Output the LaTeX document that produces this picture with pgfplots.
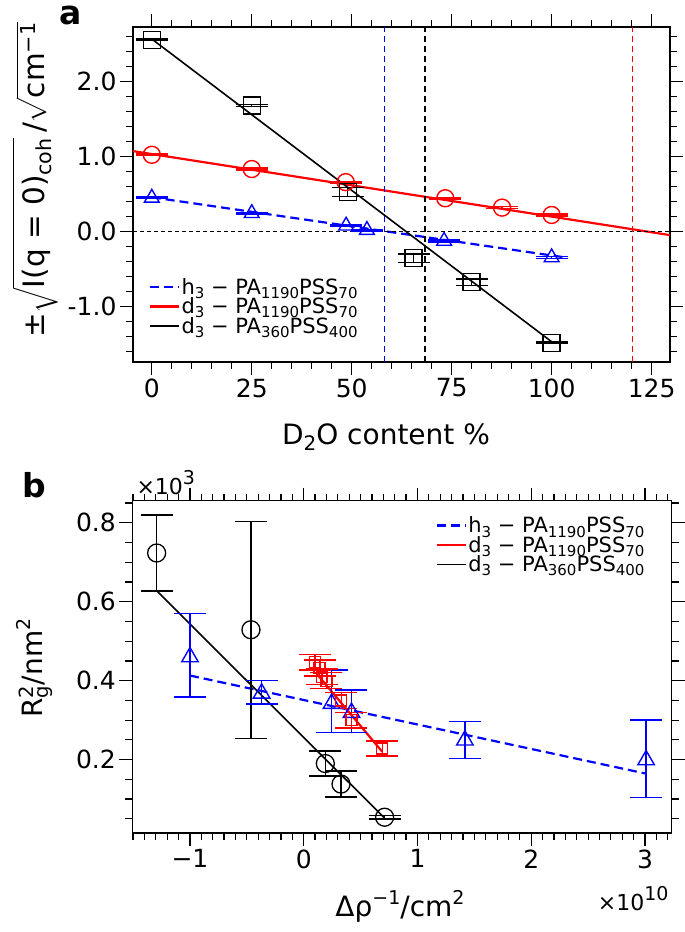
\documentclass[border=0pt]{standalone}
\usepackage{fontspec}
\setmainfont{DejaVu Sans}
\usepackage{amsmath}
\usepackage{pgfplots}
\pgfplotsset{compat=1.18}
\newcommand{\tickfont}{\fontsize{25}{28}\selectfont}
\newcommand{\labfont}{\fontsize{28}{32}\selectfont}
\newcommand{\legfont}{\fontsize{21}{24}\selectfont}
\newcommand{\sub}[1]{\raisebox{-0.2em}{\fontsize{15}{16}\selectfont #1}}
\newcommand{\lsub}[1]{\raisebox{-0.22em}{\fontsize{20}{20}\selectfont #1}}
\newcommand{\lsup}[1]{\raisebox{0.42em}{\fontsize{19}{20}\selectfont #1}}
\pgfplotsset{
  panel/.style={
    scale only axis, anchor=south west,
    axis line style={line width=1.4pt},
    tick style={black, line width=1.2pt},
    tick align=outside,
    major tick length=13pt, minor tick length=7pt,
    ticklabel style={font=\tickfont},
    /pgf/number format/assume math mode=true,
    legend cell align=left,
    legend image code/.code={\draw[#1] (0pt,0pt) -- (29pt,0pt);},
  },
  errstyle/.style={error bars/.cd, y dir=both, y explicit,
    error bar style={line width=1.4pt, solid},
    error mark options={rotate=90, mark size=16pt, line width=1.4pt, solid}},
}
\begin{document}
\begin{tikzpicture}
% ---------------- panel a ----------------
\begin{axis}[panel, at={(133pt,-362pt)}, width=537pt, height=335pt,
  xmin=-4.7, xmax=129.6, ymin=-1.74, ymax=2.73,
  xtick={0,25,50,75,100,125},
  minor xtick={-5,5,10,15,20,30,35,40,45,55,60,65,70,80,85,90,95,105,110,115,120,130},
  ytick={-1,0,1,2},
  minor ytick={-1.6,-1.4,-1.2,-0.8,-0.6,-0.4,-0.2,0.2,0.4,0.6,0.8,1.2,1.4,1.6,1.8,2.2,2.4,2.6},
  yticklabel style={/pgf/number format/.cd, fixed, fixed zerofill, precision=1},
  legend style={at={(0.03,0.078)}, anchor=south west, draw=none, fill=none,
    font=\legfont, inner sep=0pt, row sep=0pt, nodes={inner sep=1pt}},
]
\addplot[blue, line width=2.2pt, dash pattern=on 9pt off 5pt] coordinates {(0,0.458) (103.7,-0.347)};
\addlegendentry{h\sub{3} − PA\sub{1190}PSS\sub{70}}
\addplot[red, line width=2.2pt] coordinates {(-4.7,1.074) (129.6,-0.047)};
\addlegendentry{d\sub{3} − PA\sub{1190}PSS\sub{70}}
\addplot[black, line width=1.6pt] coordinates {(0,2.57) (100,-1.47)};
\addlegendentry{d\sub{3} − PA\sub{360}PSS\sub{400}}
% reference lines
\addplot[black, line width=0.9pt, dash pattern=on 4pt off 3pt, forget plot] coordinates {(-4.7,0) (129.6,0)};
\addplot[blue, line width=1.7pt, dash pattern=on 6pt off 4pt, forget plot] coordinates {(58.2,-1.74) (58.2,2.73)};
\addplot[black, line width=1.7pt, dash pattern=on 6pt off 4pt, forget plot] coordinates {(68.3,-1.74) (68.3,2.73)};
\addplot[red, line width=1.7pt, dash pattern=on 6pt off 4pt, forget plot] coordinates {(120.2,-1.74) (120.2,2.73)};
% data
\addplot[blue, only marks, mark=triangle, mark size=8.5pt, mark options={solid, fill=none, line width=1.4pt}, forget plot, errstyle]
 table[x=x, y=y, y error=e] {
x y e
0 0.45 0.012
25 0.245 0.012
48.6 0.078 0.012
53.8 0.02 0.012
73.1 -0.125 0.012
100 -0.345 0.012
};
\addplot[red, only marks, mark=o, mark size=8.5pt, mark options={solid, fill=none, line width=1.4pt}, forget plot, errstyle]
 table[x=x, y=y, y error=e] {
x y e
0 1.025 0.012
25 0.835 0.012
48.5 0.66 0.012
73.4 0.445 0.012
87.6 0.32 0.012
100 0.222 0.012
};
\addplot[black, only marks, mark=square, mark size=8.5pt, mark options={solid, fill=none, line width=1.4pt}, forget plot, errstyle]
 table[x=x, y=y, y error=e] {
x y e
0 2.56 0.012
25 1.68 0.012
49 0.525 0.06
65.5 -0.355 0.055
80 -0.675 0.045
100 -1.485 0.012
};
\end{axis}
% ---------------- panel b ----------------
\begin{axis}[panel, at={(132.3pt,-833pt)}, width=539.4pt, height=332.3pt,
  xmin=-1.507, xmax=3.235, ymin=0.014, ymax=0.856,
  xtick={-1,0,1,2,3}, xticklabels={−1,0,1,2,3},
  minor xtick={-1.5,-1.4,-1.3,-1.2,-1.1,-0.9,-0.8,-0.7,-0.6,-0.5,-0.4,-0.3,-0.2,-0.1,
    0.1,0.2,0.3,0.4,0.5,0.6,0.7,0.8,0.9,1.1,1.2,1.3,1.4,1.5,1.6,1.7,1.8,1.9,
    2.1,2.2,2.3,2.4,2.5,2.6,2.7,2.8,2.9,3.1,3.2},
  ytick={0.2,0.4,0.6,0.8},
  minor ytick={0.05,0.1,0.15,0.25,0.3,0.35,0.45,0.5,0.55,0.65,0.7,0.75,0.85},
  yticklabel style={/pgf/number format/.cd, fixed, fixed zerofill, precision=1},
  legend style={at={(0.563,0.955)}, anchor=north west, draw=none, fill=none,
    font=\legfont, inner sep=0pt, row sep=0pt, nodes={inner sep=1pt}},
]
\addplot[blue, line width=2.2pt, dash pattern=on 9pt off 5pt] coordinates {(-1.0,0.413) (3.0,0.165)};
\addlegendentry{h\sub{3} − PA\sub{1190}PSS\sub{70}}
\addplot[red, line width=2.2pt] coordinates {(0.113,0.418) (0.69,0.22)};
\addlegendentry{d\sub{3} − PA\sub{1190}PSS\sub{70}}
\addplot[black, line width=1.6pt] coordinates {(-1.29,0.627) (0.71,0.052)};
\addlegendentry{d\sub{3} − PA\sub{360}PSS\sub{400}}
\addplot[black, only marks, mark=o, mark size=9pt, mark options={solid, fill=none, line width=1.3pt}, forget plot, errstyle]
 table[x=x, y=y, y error=e] {
x y e
-1.293 0.7235 0.0965
-0.464 0.529 0.275
0.19 0.19 0.032
0.328 0.138 0.033
0.711 0.054 0.004
};
\addplot[blue, only marks, mark=triangle, mark size=9.5pt, mark options={solid, fill=none, line width=1.4pt}, forget plot, errstyle]
 table[x=x, y=y, y error plus=ep, y error minus=em] {
x y ep em
-1.0 0.46 0.11 0.101
-0.37 0.368 0.032 0.027
0.245 0.342 0.085 0.074
0.42 0.319 0.057 0.051
1.417 0.249 0.047 0.046
3.01 0.199 0.101 0.095
};
\addplot[red, only marks, mark=square, mark size=5.5pt, mark options={solid, fill=none, line width=1.3pt}, forget plot, errstyle]
 table[x=x, y=y, y error=e] {
x y e
0.10 0.447 0.02
0.14 0.432 0.02
0.16 0.41 0.02
0.20 0.40 0.02
0.33 0.35 0.02
0.42 0.30 0.02
0.69 0.228 0.019
};
\end{axis}
% ---------------- annotations ----------------
\node[font=\fontsize{33}{35}\selectfont\bfseries, anchor=base west] at (56pt,-24pt) {a};
\node[font=\fontsize{33}{35}\selectfont\bfseries, anchor=base west] at (19pt,-497pt) {b};
\node[font=\fontsize{29.5}{33}\selectfont, rotate=90, inner sep=0pt, anchor=north] at (12pt,-180pt)
  {±$\sqrt{\text{I(q = 0)}_{\text{coh}}}$\,/$\sqrt{\text{cm}^{\text{−1}}}$};
\node[font=\labfont, rotate=90, inner sep=0pt, anchor=north] at (16pt,-668pt) {R$_{\text{g}}^{\text{2}}$/nm\lsup{2}};
\node[font=\labfont] at (386pt,-437pt) {D\lsub{2}O content \%};
\node[font=\labfont] at (400pt,-906pt) {Δρ\lsup{−1}/cm\lsup{2}};
\node[font=\fontsize{22}{24}\selectfont, anchor=base west] at (133pt,-494pt) {×10\lsup{3}};
\node[font=\fontsize{22}{24}\selectfont, anchor=base east] at (672pt,-910pt) {×10\lsup{10}};
\pgfresetboundingbox
\path (0pt,0pt) rectangle (685pt,-932pt);
\end{tikzpicture}
\end{document}
